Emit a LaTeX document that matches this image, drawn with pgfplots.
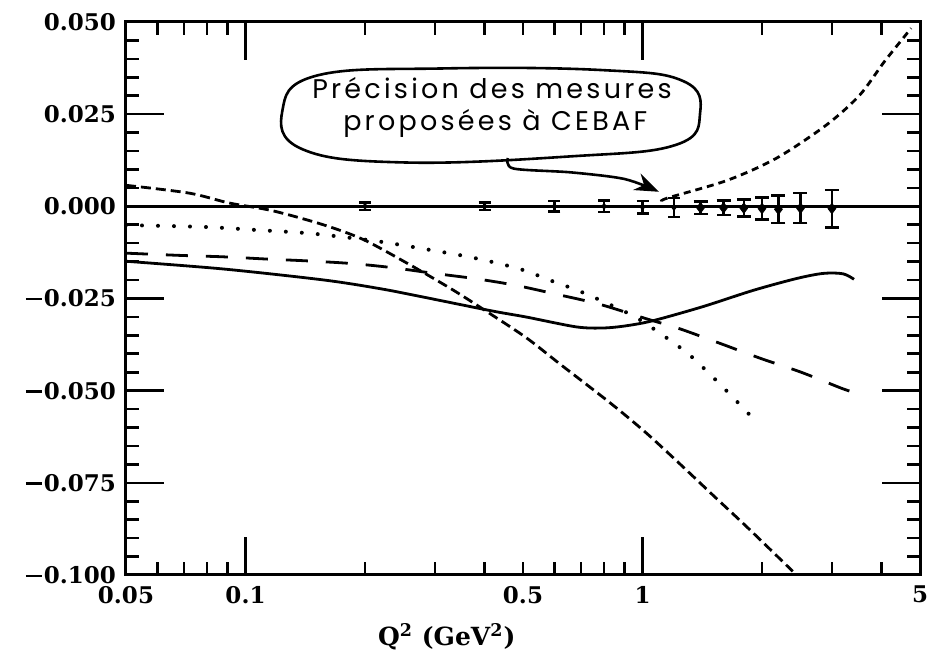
\documentclass[border=0pt]{standalone}
\usepackage{fontspec}
\setmainfont{DejaVu Serif}
\newfontfamily\handfont[LetterSpace=12]{Poppins}
\usepackage{pgfplots}
\pgfplotsset{compat=1.18}
\usetikzlibrary{arrows.meta,calc}
\newcommand\mn{\rule[0.28em]{0.7em}{0.1em}\kern0.08em}

\pgfplotstableread{
x y
0.05 -0.0149
0.088 -0.0170
0.158 -0.0200
0.22 -0.0224
0.283 -0.0247
0.419 -0.0284
0.508 -0.0300
0.681 -0.0327
0.797 -0.0330
0.91 -0.0324
1.065 -0.0310
1.42 -0.0272
1.90 -0.0228
2.44 -0.0196
2.85 -0.0182
3.20 -0.0183
3.41 -0.0198
}\solidA

\pgfplotstableread{
x y
0.05 -0.0127
0.068 -0.0133
0.088 -0.0137
0.113 -0.0143
0.143 -0.0148
0.184 -0.0155
0.233 -0.0166
0.299 -0.0182
0.378 -0.0196
0.478 -0.0214
0.604 -0.0238
0.776 -0.0265
1.023 -0.0305
1.24 -0.0332
1.57 -0.0372
1.99 -0.0413
2.51 -0.0450
3.18 -0.0494
3.47 -0.0507
}\longdashB

\pgfplotstableread{
x y
0.05 -0.0051
0.079 -0.0056
0.106 -0.0064
0.140 -0.0072
0.166 -0.0080
0.219 -0.0096
0.287 -0.0117
0.377 -0.0140
0.491 -0.0170
0.593 -0.0203
0.690 -0.0229
0.818 -0.0264
0.965 -0.0302
1.13 -0.0351
1.31 -0.0402
1.50 -0.0462
1.71 -0.0524
1.94 -0.0586
}\dottedC

\pgfplotstableread{
x y
0.05 0.0057
0.072 0.0036
0.091 0.0009
0.117 -0.0012
0.157 -0.0050
0.198 -0.0090
0.256 -0.0155
0.331 -0.0225
0.402 -0.0283
0.509 -0.0356
0.620 -0.0428
0.833 -0.0535
1.020 -0.0614
1.24 -0.0698
1.51 -0.0785
1.85 -0.0874
2.39 -0.0990
}\dashD

\pgfplotstableread{
x y
1.12 0.0014
1.16 0.0023
1.63 0.0070
2.17 0.0130
2.90 0.0220
3.52 0.0301
4.07 0.0393
4.75 0.0483
}\riseE

\pgfplotstableread{
x y e
0.2 0 0.0010
0.4 0 0.0010
0.6 0 0.0014
0.8 0 0.0016
1.0 -0.0002 0.0017
1.2 -0.0003 0.0026
}\errsmall

\pgfplotstableread{
x y e
1.4 -0.0004 0.0017
1.6 -0.0004 0.0020
1.8 -0.0005 0.0023
2.0 -0.0006 0.0030
2.2 -0.0008 0.0037
2.5 -0.0005 0.0041
3.0 -0.0006 0.0051
}\errlarge

\begin{document}
\begin{tikzpicture}
\begin{axis}[
  name=ax,
  scale only axis,
  width=397pt, height=276.5pt,
  xmode=log,
  xmin=0.05, xmax=5, ymin=-0.1, ymax=0.05,
  axis line style={line width=1.5pt},
  every tick/.style={line width=1.3pt, black},
  major tick length=19pt,
  minor tick length=6.5pt,
  tick align=inside,
  xtick={0.1,1},
  xticklabels={0.1,1},
  minor xtick={0.06,0.07,0.08,0.09,0.2,0.3,0.4,0.6,0.7,0.8,0.9,2,3,4},
  extra x ticks={0.05,0.5,5},
  extra x tick labels={0.05,0.5,5},
  extra x tick style={major tick length=6.5pt},
  ytick={-0.1,-0.075,-0.05,-0.025,0,0.025,0.05},
  yticklabels={\mn0.100,\mn0.075,\mn0.050,\mn0.025,0.000,0.025,0.050},
  minor y tick num=4,
  ticklabel style={font=\fontsize{11.5}{13}\selectfont\bfseries},
  yticklabel style={xshift=-1.5pt},
  xticklabel style={yshift=-2pt},
  clip=false,
]
% zero line
\addplot[black, line width=1.4pt] coordinates {(0.05,0) (5,0)};
% curves
\addplot[black, line width=1.4pt, smooth] table[x=x,y=y] {\solidA};
\addplot[black, line width=1.4pt, smooth, dash pattern=on 11pt off 9pt] table[x=x,y=y] {\longdashB};
\addplot[black, line width=2pt, smooth, line cap=round, dash pattern=on 0pt off 8pt] table[x=x,y=y] {\dottedC};
\addplot[black, line width=1.4pt, smooth, dash pattern=on 5pt off 2.5pt] table[x=x,y=y] {\dashD};
\addplot[black, line width=1.4pt, smooth, dash pattern=on 3.5pt off 2.5pt] table[x=x,y=y] {\riseE};
% data points
\addplot[black, only marks, mark=diamond*, mark size=1.5pt,
  error bars/.cd, y dir=both, y explicit,
  error bar style={line width=1.2pt, black},
  error mark options={rotate=90, mark size=3pt, line width=1.2pt, black}]
  table[x=x,y=y,y error=e] {\errsmall};
\addplot[black, only marks, mark=diamond*, mark size=2.6pt,
  error bars/.cd, y dir=both, y explicit,
  error bar style={line width=1.2pt, black},
  error mark options={rotate=90, mark size=3.5pt, line width=1.2pt, black}]
  table[x=x,y=y,y error=e] {\errlarge};
% bubble coordinates
\coordinate (b1) at (rel axis cs:0.197,0.840);
\coordinate (b2) at (rel axis cs:0.240,0.903);
\coordinate (b3) at (rel axis cs:0.400,0.916);
\coordinate (b4) at (rel axis cs:0.600,0.913);
\coordinate (b5) at (rel axis cs:0.702,0.893);
\coordinate (b6) at (rel axis cs:0.723,0.835);
\coordinate (b7) at (rel axis cs:0.693,0.778);
\coordinate (b8) at (rel axis cs:0.560,0.757);
\coordinate (b9) at (rel axis cs:0.350,0.746);
\coordinate (b10) at (rel axis cs:0.222,0.770);
\coordinate (t1) at (rel axis cs:0.481,0.754);
\coordinate (t2) at (rel axis cs:0.488,0.735);
\coordinate (t3) at (rel axis cs:0.561,0.728);
\coordinate (t4) at (rel axis cs:0.628,0.716);
\coordinate (t5) at (rel axis cs:0.671,0.693);
\node[font=\handfont\fontsize{13.5}{15}\selectfont] at (rel axis cs:0.461,0.880) {Précision des mesures};
\node[font=\handfont\fontsize{13.5}{15}\selectfont] at (rel axis cs:0.465,0.817) {proposées à CEBAF};
\node[font=\fontsize{12.5}{14}\selectfont\bfseries] at (rel axis cs:0.404,0) [yshift=-31pt] {Q\textsuperscript{2} (GeV\textsuperscript{2})};
\end{axis}
\draw[line width=1.3pt] plot[smooth cycle, tension=0.7] coordinates {(b1) (b2) (b3) (b4) (b5) (b6) (b7) (b8) (b9) (b10)};
\draw[line width=1.3pt, -{Stealth[length=12pt, width=9pt]}] plot[smooth, tension=0.5] coordinates {(t1) (t2) (t3) (t4) (t5)};
\pgfresetboundingbox
\path ($(ax.south west)+(-63pt,-41pt)$) rectangle ($(ax.north east)+(3.5pt,11pt)$);
\end{tikzpicture}
\end{document}
